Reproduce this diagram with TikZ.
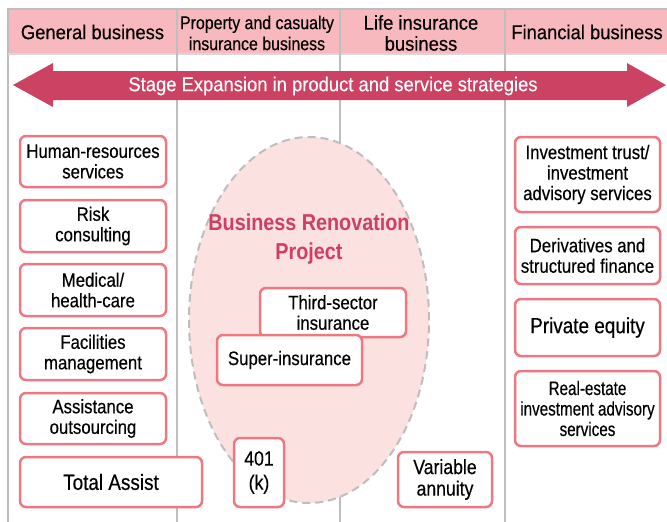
\documentclass[tikz,border=0pt]{standalone}
\usepackage{fontspec}
\setmainfont{Liberation Sans}[FakeStretch=0.86, UprightFeatures={FakeBold=0.35}]
\usepackage{tikz}
\definecolor{headpink}{HTML}{F8B9BE}
\definecolor{arrowred}{HTML}{CC4262}
\definecolor{boxred}{HTML}{EE7882}
\definecolor{ellpink}{HTML}{FCE1E1}
\definecolor{titlered}{HTML}{CE3F62}
\definecolor{framegray}{HTML}{BEBEBE}
\tikzset{
	headtext/.style={align=center, font=\fontsize{20}{21}\selectfont\addfontfeature{FakeStretch=0.92}},
	itembox/.style={draw=boxred, line width=2.5pt, rounded corners=6pt, fill=white, align=center, inner sep=0pt, font=\fontsize{19.5}{20.5}\selectfont},
	bigtext/.style={font=\fontsize{22}{22}\selectfont},
}
\begin{document}
\begin{tikzpicture}[x=1pt, y=-1pt]
						\useasboundingbox (0,0) rectangle (667,522);
						\fill[headpink] (8,9) rectangle (667,54);
						\draw[framegray, line width=2pt] (8,522) -- (8,9) -- (667,9);
						\draw[framegray!60, line width=1.5pt] (8,54) -- (667,54);
						\draw[framegray, line width=1.5pt] (177,9) -- (177,522);
						\draw[framegray, line width=1.5pt] (340,9) -- (340,522);
						\draw[framegray, line width=1.5pt] (505,9) -- (505,522);
						\path (92.5,32) node[headtext] (general) {General business};
						\path (257,33) node[align=center, font=\fontsize{18.5}{21}\selectfont] (property) {Property and casualty\\insurance business};
						\path (421,33) node[headtext] (life) {Life insurance\\business};
						\path (587,32) node[headtext] (financial) {Financial business};
						
						\fill[arrowred] (13,85) -- (53,63) -- (53,71) -- (627,71) -- (627,63) -- (666,85) -- (627,107) -- (627,100) -- (53,100) -- (53,107) -- cycle;
						\path (333,86) node[headtext, white] (stage) {Stage Expansion in product and service strategies};
						
						\draw[framegray, fill=ellpink, line width=2pt, dash pattern=on 8pt off 5pt] (309,320) ellipse [x radius=120pt, y radius=183pt];
						\path (309,239) node[align=center, titlered, font=\bfseries\fontsize{23}{29}\selectfont] (renovation) {Business Renovation\\Project};
						
						\path (93,161.5) node[itembox, minimum width=146pt, minimum height=51pt] (hr) {Human-resources\\services};
						\path (93,226) node[itembox, minimum width=146pt, minimum height=52pt] (risk) {Risk\\consulting};
						\path (93,290) node[itembox, minimum width=146pt, minimum height=52pt] (medical) {Medical/\\health-care};
						\path (93,354) node[itembox, minimum width=146pt, minimum height=52pt] (facilities) {Facilities\\management};
						\path (93,418.5) node[itembox, minimum width=146pt, minimum height=51pt] (assistance) {Assistance\\outsourcing};
						\path (111,482) node[itembox, bigtext, minimum width=182pt, minimum height=50pt] (total) {Total Assist};
						
						\path (333,312.5) node[itembox, minimum width=146pt, minimum height=49pt] (thirdsector) {Third-sector\\insurance};
						\path (289.5,360) node[itembox, minimum width=145pt, minimum height=50pt] (super) {Super-insurance};
						\path (259,472.5) node[itembox, minimum width=50pt, minimum height=69pt, font=\fontsize{20.5}{24}\selectfont] (k401) {401\\(k)};
						\path (445,479.5) node[itembox, minimum width=94pt, minimum height=55pt, font=\fontsize{20.5}{21.5}\selectfont] (variable) {Variable\\annuity};
						
						\path (587.5,174.5) node[itembox, minimum width=145pt, minimum height=75pt] (trust) {Investment trust/\\investment\\advisory services};
						\path (587.5,255.5) node[itembox, minimum width=145pt, minimum height=57pt] (derivatives) {Derivatives and\\structured finance};
						\path (587.5,327.5) node[itembox, bigtext, minimum width=145pt, minimum height=57pt] (equity) {Private equity};
						\path (587.5,408.5) node[itembox, minimum width=145pt, minimum height=75pt, font=\fontsize{19.5}{20.5}\selectfont\addfontfeature{FakeStretch=0.78}] (realestate) {Real-estate\\investment advisory\\services};
					\end{tikzpicture}
\end{document}
